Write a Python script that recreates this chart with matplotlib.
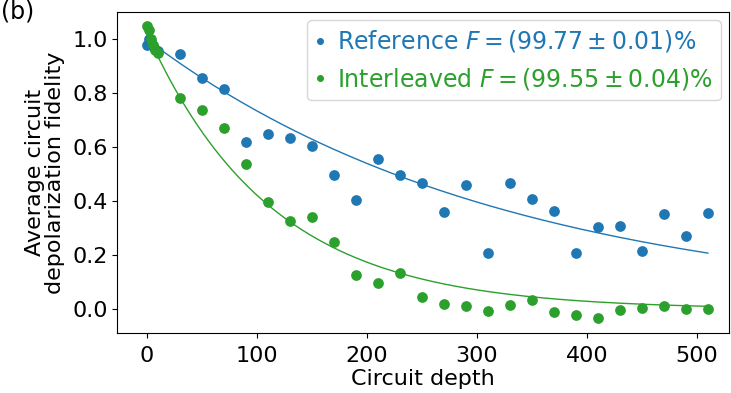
import matplotlib
matplotlib.use("Agg")
import matplotlib.pyplot as plt
import numpy as np

plt.rcParams.update({
    "font.family": ["DejaVu Sans"],
    "font.size": 16,
    "mathtext.fontset": "dejavusans",
})

# ── data ──────────────────────────────────────────────────────────────────────
depth = [0, 2, 4, 6, 8, 10,
         30, 50, 70, 90, 110, 130, 150, 170, 190, 210, 230, 250, 270, 290,
         310, 330, 350, 370, 390, 410, 430, 450, 470, 490, 510]

ref_fid = [0.98, 1.00, 0.99, 0.975, 0.965, 0.955,
           0.945, 0.858, 0.816, 0.621, 0.648, 0.633, 0.605, 0.499, 0.405,
           0.556, 0.499, 0.467, 0.359, 0.460, 0.210, 0.468, 0.408, 0.364,
           0.207, 0.306, 0.307, 0.217, 0.352, 0.271, 0.358]

int_fid = [1.05, 1.035, 1.00, 0.98, 0.96, 0.95,
           0.784, 0.737, 0.671, 0.539, 0.399, 0.328, 0.343, 0.250, 0.128,
           0.099, 0.136, 0.047, 0.020, 0.012, -0.007, 0.017, 0.034, -0.010,
           -0.022, -0.031, -0.003, 0.005, 0.012, 0.000, 0.002]

# fitted decay f = A * p**depth
ref_fit = (1.00, 0.99693)
int_fit = (1.025, 0.9912)

ref_label = r"Reference $F = (99.77 \pm 0.01)$%"
int_label = r"Interleaved $F = (99.55 \pm 0.04)$%"

BLUE = "#1f77b4"
GREEN = "#2ca02c"

# ── plot ──────────────────────────────────────────────────────────────────────
fig = plt.figure(figsize=(7.31, 3.93), dpi=100)
ax = fig.add_axes([0.160, 0.153, 0.837, 0.817])

m = np.linspace(0, max(depth), 300)
ax.plot(m, ref_fit[0] * ref_fit[1] ** m, color=BLUE, lw=1.0)
ax.plot(m, int_fit[0] * int_fit[1] ** m, color=GREEN, lw=1.0)

ax.plot(depth, ref_fid, "o", color=BLUE, ms=6.7, label=ref_label)
ax.plot(depth, int_fid, "o", color=GREEN, ms=6.7, label=int_label)

ax.set_xlim(-27, 529)
ax.set_ylim(-0.087, 1.102)
ax.set_xticks([0, 100, 200, 300, 400, 500])
ax.set_yticks([0.0, 0.2, 0.4, 0.6, 0.8, 1.0])
ax.tick_params(labelsize=16, pad=3)
ax.tick_params(axis="x", pad=6)
ax.set_xlabel("Circuit depth", labelpad=2)
ax.set_ylabel("Average circuit\ndepolarization fidelity", labelpad=5,
              linespacing=1.05)

ax.legend(loc="upper right", labelcolor="linecolor", handlelength=0.4,
          handletextpad=0.5, markerscale=0.6, borderpad=0.35,
          labelspacing=0.5, borderaxespad=0.35, fontsize=17)

fig.text(0.002, 1 - 18 / 393, "(b)", fontsize=17, va="baseline", ha="left")

fig.savefig("out.png", dpi=100)
